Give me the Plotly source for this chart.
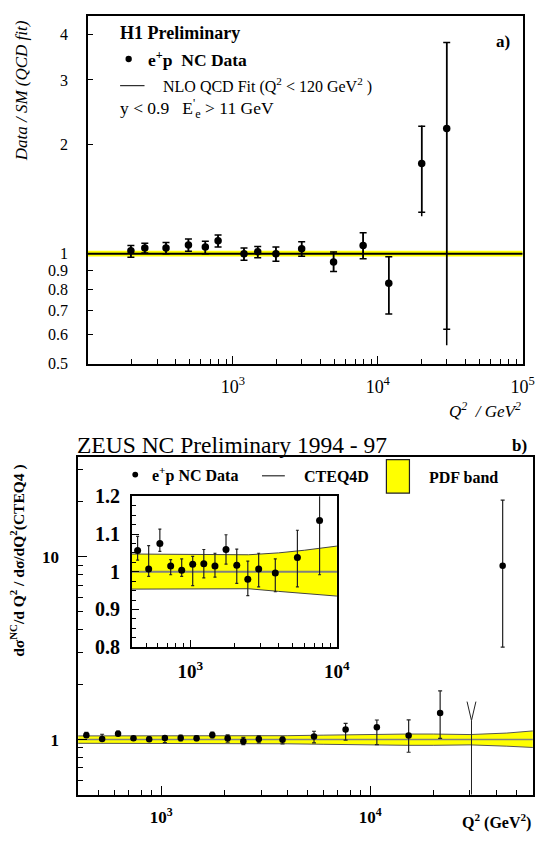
import plotly.graph_objects as go

FONT = "Liberation Serif"
W, H = 553, 842

# ---- panel a) H1 data / QCD fit ----
h1_q2 = [198, 247, 346, 494, 646, 791, 1194, 1485, 1983, 2985, 4955, 7925, 11910, 20100, 29900]
h1_ratio = [1.020, 1.038, 1.038, 1.057, 1.044, 1.087, 1.000, 1.014, 1.000, 1.033, 0.949, 1.054, 0.831, 1.769, 2.207]
h1_stat_up = [0.034, 0.032, 0.036, 0.042, 0.039, 0.039, 0.038, 0.034, 0.044, 0.047, 0.063, 0.088, 0.151, 0.471, 1.593]
h1_stat_dn = [0.041, 0.032, 0.038, 0.041, 0.044, 0.043, 0.040, 0.038, 0.045, 0.048, 0.054, 0.084, 0.147, 0.469, 1.586]
h1_tot_up = [0.034, 0.032, 0.036, 0.042, 0.039, 0.039, 0.038, 0.034, 0.044, 0.047, 0.063, 0.088, 0.151, 0.480, 1.600]
h1_tot_dn = [0.041, 0.032, 0.038, 0.041, 0.044, 0.043, 0.040, 0.038, 0.045, 0.048, 0.054, 0.084, 0.147, 0.501, 1.646]
h1_band_q2 = [100, 100000]
h1_band_hi = [1.020, 1.020]
h1_band_lo = [0.983, 0.983]

# ---- panel b) ZEUS data / CTEQ4D ----
zeus_q2 = [438, 521, 621, 736, 875, 1040, 1238, 1475, 1754, 2077, 2470, 2929, 3803, 5380, 7620,
           10750, 15260, 21590, 43000]
zeus_ratio = [1.056, 1.007, 1.075, 1.015, 1.004, 1.020, 1.021, 1.015, 1.059, 1.017, 0.980, 1.007, 0.997,
              1.038, 1.136, 1.169, 1.052, 1.396, 8.92]
zeus_err_up = [0.038, 0.062, 0.038, 0.017, 0.030, 0.021, 0.038, 0.034, 0.039, 0.043, 0.048, 0.042, 0.037,
               0.072, 0.090, 0.110, 0.230, 0.450, 11.5]
zeus_err_dn = [0.025, 0.019, 0.021, 0.023, 0.016, 0.057, 0.037, 0.029, 0.039, 0.048, 0.043, 0.047, 0.050,
               0.078, 0.144, 0.230, 0.200, 0.380, 5.72]
zeus_lim_q2 = [30500]
zeus_lim = [1.27]
band_q2 = [400, 1000, 2500, 4000, 6000, 10000, 15000, 20000, 30000, 45000, 60000]
band_hi = [1.047, 1.047, 1.045, 1.050, 1.057, 1.068, 1.072, 1.072, 1.065, 1.085, 1.115]
band_lo = [0.954, 0.955, 0.955, 0.948, 0.942, 0.933, 0.930, 0.930, 0.935, 0.920, 0.905]


def px(x):
    return x / W


def py(y):
    return 1 - y / H


fig = go.Figure()

# panel a)
fig.add_trace(go.Scatter(x=h1_band_q2, y=h1_band_hi, mode='lines', line=dict(width=0), xaxis='x', yaxis='y'))
fig.add_trace(go.Scatter(x=h1_band_q2, y=h1_band_lo, mode='lines', line=dict(width=0), fill='tonexty',
                         fillcolor='#ffff00', xaxis='x', yaxis='y'))
fig.add_trace(go.Scatter(x=h1_band_q2, y=[1, 1], mode='lines', line=dict(color='black', width=2), xaxis='x', yaxis='y'))
fig.add_trace(go.Scatter(x=h1_q2, y=h1_ratio, mode='markers', marker=dict(size=0.1, color='black'),
                         error_y=dict(type='data', array=h1_tot_up, arrayminus=h1_tot_dn, width=0, thickness=1.5, color='black'),
                         xaxis='x', yaxis='y'))
fig.add_trace(go.Scatter(x=h1_q2, y=h1_ratio, mode='markers', marker=dict(size=7.5, color='black'),
                         error_y=dict(type='data', array=h1_stat_up, arrayminus=h1_stat_dn, width=3.5, thickness=1.5, color='black'),
                         xaxis='x', yaxis='y'))

# panel b) main
fig.add_trace(go.Scatter(x=band_q2, y=band_hi, mode='lines', line=dict(color='#555555', width=1), xaxis='x2', yaxis='y2'))
fig.add_trace(go.Scatter(x=band_q2, y=band_lo, mode='lines', line=dict(color='#555555', width=1), fill='tonexty',
                         fillcolor='#ffff00', xaxis='x2', yaxis='y2'))
fig.add_trace(go.Scatter(x=[band_q2[0], band_q2[-1]], y=[1, 1], mode='lines', line=dict(color='#808080', width=1.5),
                         xaxis='x2', yaxis='y2'))
fig.add_trace(go.Scatter(x=zeus_q2, y=zeus_ratio, mode='markers', marker=dict(size=6.5, color='black'),
                         error_y=dict(type='data', array=zeus_err_up, arrayminus=zeus_err_dn, width=2, thickness=1.2, color='#222222'),
                         xaxis='x2', yaxis='y2'))
fig.add_trace(go.Scatter(x=zeus_lim_q2, y=zeus_lim, mode='markers', marker=dict(size=0.1, color='black'),
                         error_y=dict(type='data', array=[0], arrayminus=[v - 0.01 for v in zeus_lim], width=0,
                                      thickness=1, color='#222222'),
                         xaxis='x2', yaxis='y2'))
for q, v in zip(zeus_lim_q2, zeus_lim):
    fig.add_trace(go.Scatter(x=[q / 1.05, q, q * 1.05], y=[v * 1.27, v, v * 1.27], mode='lines',
                             line=dict(color='#222222', width=1), xaxis='x2', yaxis='y2'))

# panel b) inset
fig.add_trace(go.Scatter(x=band_q2, y=band_hi, mode='lines', line=dict(color='#444444', width=1), xaxis='x3', yaxis='y3'))
fig.add_trace(go.Scatter(x=band_q2, y=band_lo, mode='lines', line=dict(color='#444444', width=1), fill='tonexty',
                         fillcolor='#ffff00', xaxis='x3', yaxis='y3'))
fig.add_trace(go.Scatter(x=[band_q2[0], band_q2[-1]], y=[1, 1], mode='lines', line=dict(color='#808080', width=2),
                         xaxis='x3', yaxis='y3'))
fig.add_trace(go.Scatter(x=zeus_q2, y=zeus_ratio, mode='markers', marker=dict(size=7, color='black'),
                         error_y=dict(type='data', array=zeus_err_up, arrayminus=zeus_err_dn, width=1.5, thickness=1.2, color='#222222'),
                         xaxis='x3', yaxis='y3'))

tick_font = dict(family=FONT, size=16, color='black')
bold_font = dict(family=FONT, size=17, color='black')


def minor_vals(decades, top=None):
    vals = []
    for d in decades:
        for m in range(2, 10):
            v = m * d
            if top is None or v <= top:
                vals.append(v)
    return vals


axis_common = dict(showline=True, linecolor='black', linewidth=1.6, mirror=True, showgrid=False, zeroline=False,
                   ticks='inside', tickcolor='black')

fig.update_layout(
    width=W, height=H,
    margin=dict(l=0, r=0, t=0, b=0),
    paper_bgcolor='white', plot_bgcolor='white',
    showlegend=False,
    xaxis=dict(axis_common, type='log', range=[2, 5], domain=[px(90), px(535.3)], anchor='y',
               tickvals=[1e3, 1e4, 1e5], ticktext=['10<sup>3</sup>', '10<sup>4</sup>', '10<sup>5</sup>'],
               ticklen=8, tickwidth=1.2, tickfont=dict(family=FONT, size=18, color='black'), ticklabelstandoff=6,
               minor=dict(tickvals=minor_vals([100, 1000, 10000]), ticks='inside', ticklen=5, tickcolor='black', tickwidth=1)),
    yaxis=dict(axis_common, type='log', range=[-0.30103, 0.653], domain=[py(362), py(5)], anchor='x',
               tickvals=[0.5, 0.6, 0.7, 0.8, 0.9, 1, 2, 3, 4], ticktext=['0.5', '0.6', '0.7', '0.8', '0.9', '1', '2', '3', '4'],
               ticklen=5, tickwidth=1.2, tickfont=tick_font, ticklabelstandoff=15),
    xaxis2=dict(axis_common, type='log', range=[2.602, 4.778], domain=[px(80), px(545.7)], anchor='y2',
                tickvals=[1e3, 1e4], ticktext=['<b>10<sup>3</sup></b>', '<b>10<sup>4</sup></b>'],
                ticklen=9, tickwidth=1.2, tickfont=bold_font, ticklabelstandoff=6,
                minor=dict(tickvals=minor_vals([100, 1000, 10000], 60000), ticks='inside', ticklen=5, tickcolor='black', tickwidth=1)),
    yaxis2=dict(axis_common, type='log', range=[-0.30103, 1.544], domain=[py(804.6), py(458.3)], anchor='x2',
                tickvals=[1, 10], ticktext=['<b>1</b>', '<b>10</b>'],
                ticklen=9, tickwidth=1.2, tickfont=bold_font, ticklabelstandoff=14,
                minor=dict(tickvals=minor_vals([0.1, 1, 10], 35), ticks='inside', ticklen=5, tickcolor='black', tickwidth=1)),
    xaxis3=dict(axis_common, type='log', range=[2.602, 4.0], domain=[px(135), px(345)], anchor='y3',
                tickvals=[1e3, 1e4], ticktext=['<b>10<sup>3</sup></b>', '<b>10<sup>4</sup></b>'],
                ticklen=7, tickwidth=1.2, tickfont=dict(family=FONT, size=19, color='black'), ticklabelstandoff=6,
                minor=dict(tickvals=minor_vals([100, 1000]), ticks='inside', ticklen=4, tickcolor='black', tickwidth=1)),
    yaxis3=dict(axis_common, type='linear', range=[0.8, 1.2], domain=[py(653.3), py(498.3)], anchor='x3',
                tickvals=[0.8, 0.9, 1.0, 1.1, 1.2], ticktext=['<b>0.8</b>', '<b>0.9</b>', '<b>1</b>', '<b>1.1</b>', '<b>1.2</b>'],
                ticklen=7, tickwidth=1.2, tickfont=dict(family=FONT, size=20, color='black'), ticklabelstandoff=6,
                minor=dict(dtick=0.025, ticks='inside', ticklen=4, tickcolor='black', tickwidth=1)),
)


def note(x, y, text, size, anchor='left', angle=0):
    fig.add_annotation(x=px(x), y=py(y), xref='paper', yref='paper', text=text, showarrow=False,
                       xanchor=anchor, yanchor='middle', textangle=angle,
                       font=dict(family=FONT, size=size, color='black'))


# panel a) labels
note(121, 23, '<b>H1 Preliminary</b>', 18)
fig.add_shape(type='circle', xref='paper', yref='paper', x0=px(128.5), x1=px(135), y0=py(52.5), y1=py(46),
              fillcolor='black', line=dict(color='black', width=0))
note(150, 49, '<b>e<sup>+</sup>p  NC Data</b>', 17.5)
fig.add_shape(type='line', xref='paper', yref='paper', x0=px(123), x1=px(148), y0=py(76.7), y1=py(76.7),
              line=dict(color='black', width=1))
note(165, 76, 'NLO QCD Fit (Q<sup>2</sup> < 120 GeV<sup>2</sup> )', 16)
note(121, 100, 'y < 0.9   E<sup>\'</sup><sub>e</sub> > 11 GeV', 17.5)
note(506, 31, '<b>a)</b>', 17)
note(22, 82, '<i>Data / SM (QCD fit)</i>', 17, anchor='center', angle=-90)
note(536, 410, '<i>Q<sup>2</sup>  / GeV<sup>2</sup></i>', 17, anchor='right')

# panel b) labels
note(77, 446, 'ZEUS NC Preliminary 1994 - 97', 23.5)
note(522, 446, '<b>b)</b>', 17)
fig.add_shape(type='circle', xref='paper', yref='paper', x0=px(135.5), x1=px(141.5), y0=py(479), y1=py(473),
              fillcolor='black', line=dict(color='black', width=0))
note(154, 476, '<b>e<sup>+</sup>p NC Data</b>', 16)
fig.add_shape(type='line', xref='paper', yref='paper', x0=px(268.3), x1=px(291.7), y0=py(477.3), y1=py(477.3),
              line=dict(color='black', width=1))
note(309, 478, '<b>CTEQ4D</b>', 16)
fig.add_shape(type='rect', xref='paper', yref='paper', x0=px(395.7), x1=px(419.3), y0=py(495), y1=py(460.7),
              fillcolor='#ffff00', line=dict(color='#222222', width=1.2))
note(437, 479, '<b>PDF band</b>', 16)
note(18, 565, '<b>dσ<sup>NC</sup>/d Q<sup>2</sup> / dσ/dQ<sup>2</sup>(CTEQ4 )</b>', 15.5, anchor='center', angle=-90)
note(546, 832, '<b>Q<sup>2</sup> (GeV<sup>2</sup>)</b>', 16, anchor='right')

fig.write_html("out.html", config={'displayModeBar': False},
               post_script="document.body.style.margin='0';document.body.style.overflow='hidden';")
